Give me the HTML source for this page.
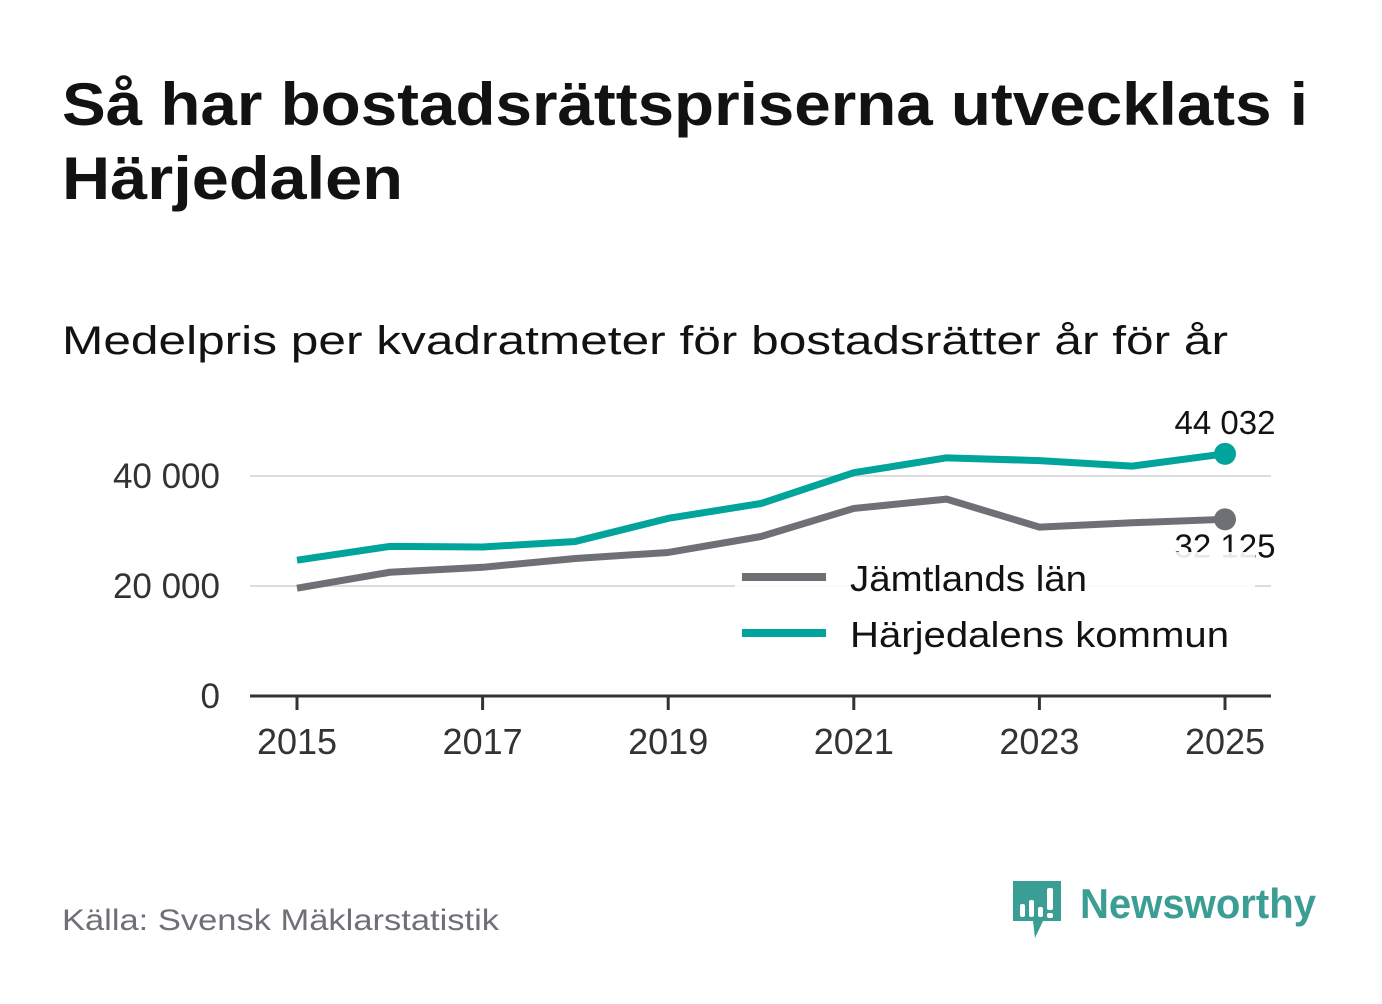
<!DOCTYPE html>
<html><head><meta charset="utf-8"><style>
html,body{margin:0;padding:0;background:#fff;}
body{width:1382px;height:999px;overflow:hidden;font-family:"Liberation Sans","DejaVu Sans",sans-serif;}
</style></head><body>
<svg width="1382" height="999" xmlns="http://www.w3.org/2000/svg">
<text x="62" y="125" font-size="60" font-weight="bold" fill="#121212" textLength="1246" lengthAdjust="spacingAndGlyphs">Så har bostadsrättspriserna utvecklats i</text>
<text x="62" y="199" font-size="60" font-weight="bold" fill="#121212" textLength="341" lengthAdjust="spacingAndGlyphs">Härjedalen</text>
<text x="62" y="354" font-size="40" fill="#121212" textLength="1166" lengthAdjust="spacingAndGlyphs">Medelpris per kvadratmeter för bostadsrätter år för år</text>
<g id="grid"></g>
<g id="series"></g>
<g>
<rect x="735" y="552" width="520" height="110" fill="#fff" opacity="0.9"/>
<line x1="742" y1="577" x2="826" y2="577" stroke="#6f6f76" stroke-width="8"/>
<text x="850" y="591" font-size="36" fill="#121212" textLength="237" lengthAdjust="spacingAndGlyphs">Jämtlands län</text>
<line x1="742" y1="633" x2="826" y2="633" stroke="#00a49a" stroke-width="8"/>
<text x="850" y="647" font-size="36" fill="#121212" textLength="379" lengthAdjust="spacingAndGlyphs">Härjedalens kommun</text>
</g>
<text x="62" y="930" font-size="30" fill="#6f6f76" textLength="437" lengthAdjust="spacingAndGlyphs">Källa: Svensk Mäklarstatistik</text>
<g>
<path d="M1013 881 h48 v40 h-18 l-8 17 l-2 -17 h-20 z" fill="#3a9e94"/>
<rect x="1020" y="904" width="5" height="13" fill="#fff" rx="2"/>
<rect x="1029" y="900" width="5" height="17" fill="#fff" rx="2"/>
<rect x="1038" y="907" width="5" height="10" fill="#fff" rx="2"/>
<rect x="1047" y="888" width="6" height="22" fill="#fff" rx="2"/>
<rect x="1047" y="913" width="6" height="5" fill="#fff" rx="2"/>
<text x="1080" y="918" font-size="42" font-weight="bold" fill="#3a9e94" textLength="236" lengthAdjust="spacingAndGlyphs">Newsworthy</text>
</g>
</svg>
<script>
const years=[2015,2016,2017,2018,2019,2020,2021,2022,2023,2024,2025];
const jamtland=[19600,22500,23400,25000,26100,29000,34100,35800,30700,31500,32125];
const harjedalen=[24700,27200,27100,28100,32300,35000,40600,43300,42800,41800,44032];
const yTicks=[0,20000,40000];
const yTickLabels=["0","20 000","40 000"];
const xTicks=[2015,2017,2019,2021,2023,2025];
const ns="http://www.w3.org/2000/svg";
const X=v=>297+(v-2015)*92.8;
const Y=v=>696-v*0.0055;
const grid=document.getElementById('grid'),ser=document.getElementById('series');
function mk(tag,attrs,parent,txt){const e=document.createElementNS(ns,tag);for(const k in attrs)e.setAttribute(k,attrs[k]);if(txt!==undefined)e.textContent=txt;parent.appendChild(e);return e;}
yTicks.forEach((t,i)=>{
 if(t>0){const g=mk('line',{x1:250,x2:1271,y1:Y(t),y2:Y(t),stroke:'#dcdcdc','stroke-width':2},grid);
 
 }
 const l=mk('text',{x:220,y:Y(t)+12,'font-size':35,fill:'#333','text-anchor':'end'},grid,yTickLabels[i]);
 
 
});
const ax=mk('line',{x1:250,x2:1271,y1:696,y2:696,stroke:'#333','stroke-width':3},grid);


xTicks.forEach(t=>{
 const tk=mk('line',{x1:X(t),x2:X(t),y1:696,y2:710,stroke:'#333','stroke-width':3},grid);
 
 
 const l=mk('text',{x:X(t),y:754,'font-size':36,fill:'#333','text-anchor':'middle'},grid,String(t));
 
 
});
function line(vals,color,name){
 const d=vals.map((v,i)=>(i?'L':'M')+X(years[i])+' '+Y(v)).join(' ');
 const p=mk('path',{d:d,fill:'none',stroke:color,'stroke-width':7,'stroke-linejoin':'round'},ser);
 
 
 const n=vals.length-1;
 const c=mk('circle',{cx:X(years[n]),cy:Y(vals[n]),r:11,fill:color},ser);
 
 
}
function fmt(v){return String(v).replace(/\B(?=(\d{3})+(?!\d))/g,' ');}
line(jamtland,'#6f6f76','jamtland');
line(harjedalen,'#00a49a','harjedalen');
const n=years.length-1;
const l1=mk('text',{x:X(years[n]),y:Y(harjedalen[n])-20,'font-size':33,fill:'#121212','text-anchor':'middle'},ser,fmt(harjedalen[n]));


const l2=mk('text',{x:X(years[n]),y:Y(jamtland[n])+38,'font-size':33,fill:'#121212','text-anchor':'middle'},ser,fmt(jamtland[n]));


</script>
</body></html>
